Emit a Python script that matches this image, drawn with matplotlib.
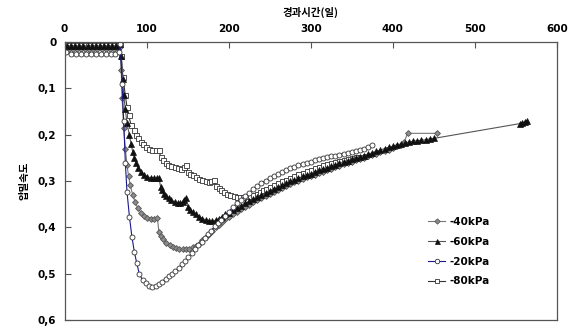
import matplotlib
matplotlib.use("Agg")
import matplotlib.pyplot as plt
from matplotlib.ticker import FixedLocator, FuncFormatter

plt.rcParams['font.family'] = ['DejaVu Sans', 'Noto Sans CJK KR']

# -20kPa (open circles)
d20 = [2, 8, 14, 20, 26, 32, 38, 44, 50, 56, 61, 66, 68, 70, 72, 74, 76, 79, 82, 85,
       88, 91, 95, 99, 103, 107, 111, 115, 119, 123, 127, 131, 135, 139, 143, 147,
       151, 155, 159, 163, 167, 171, 175, 179, 183, 187, 191, 195, 200, 205, 210,
       215, 220, 225, 230, 235, 240, 245, 250, 255, 260, 265, 270, 275, 280, 285,
       290, 295, 300, 305, 310, 315, 320, 325, 330, 335, 340, 345, 350, 355, 360,
       365, 370, 375]
v20 = [0.022, 0.025, 0.025, 0.025, 0.025, 0.025, 0.025, 0.025, 0.025, 0.025, 0.025,
       0.022, 0.005, 0.09, 0.17, 0.26, 0.323, 0.377, 0.42, 0.453,
       0.478, 0.5, 0.514, 0.521, 0.527, 0.528, 0.527, 0.523, 0.517, 0.511, 0.505,
       0.5, 0.494, 0.487, 0.48, 0.472, 0.464, 0.456, 0.447, 0.439, 0.431, 0.423,
       0.415, 0.407, 0.398, 0.391, 0.384, 0.375, 0.366, 0.357, 0.348, 0.34, 0.332,
       0.325, 0.318, 0.311, 0.305, 0.299, 0.294, 0.289, 0.284, 0.28, 0.276, 0.272,
       0.269, 0.266, 0.263, 0.26, 0.258, 0.255, 0.253, 0.251, 0.249, 0.247, 0.245,
       0.243, 0.241, 0.239, 0.237, 0.235, 0.233, 0.23, 0.227, 0.223]

# -40kPa (grey diamonds)
d40 = [0, 5, 10, 15, 20, 25, 30, 35, 40, 45, 50, 55, 60, 65, 67, 69, 70, 72, 74, 76,
       78, 80, 83, 86, 89, 93, 97, 101, 105, 109, 113, 115, 117, 120, 124, 128, 132,
       136, 140, 144, 148, 152, 156, 160, 164, 168, 172, 176, 180, 184, 188, 192,
       196, 200, 205, 210, 215, 220, 225, 230, 235, 240, 245, 250, 255, 260, 265,
       270, 275, 280, 285, 290, 295, 300, 305, 310, 315, 320, 325, 330, 335, 340,
       345, 350, 355, 360, 365, 370, 375, 380, 385, 390, 395, 400, 405, 410, 414,
       418, 454]
v40 = [0.012, 0.014, 0.014, 0.014, 0.014, 0.014, 0.014, 0.014, 0.014, 0.014, 0.014,
       0.014, 0.014, 0.014, 0.01, 0.06, 0.12, 0.185, 0.23, 0.265,
       0.29, 0.309, 0.33, 0.345, 0.358, 0.368, 0.375, 0.379, 0.381, 0.381, 0.379,
       0.41, 0.418, 0.426, 0.433, 0.438, 0.442, 0.445, 0.447, 0.447, 0.447, 0.446,
       0.443, 0.44, 0.435, 0.428, 0.421, 0.414, 0.407, 0.4, 0.394, 0.388, 0.382,
       0.377, 0.371, 0.366, 0.361, 0.356, 0.351, 0.346, 0.341, 0.337, 0.332, 0.328,
       0.323, 0.319, 0.315, 0.311, 0.307, 0.303, 0.299, 0.295, 0.292, 0.289, 0.286,
       0.283, 0.28, 0.277, 0.274, 0.27, 0.267, 0.264, 0.261, 0.258, 0.255, 0.253,
       0.25, 0.247, 0.244, 0.241, 0.238, 0.235, 0.232, 0.228, 0.225, 0.222, 0.216,
       0.197, 0.197]

# -60kPa (black triangles)
d60 = [3, 8, 13, 18, 23, 28, 33, 38, 43, 48, 53, 58, 63, 67, 69, 71, 72, 74, 76, 79,
       81, 83, 85, 87, 90, 93, 97, 101, 105, 109, 113, 115, 117, 119, 121, 124, 127,
       130, 134, 138, 141, 144, 146, 148, 150, 153, 156, 160, 164, 168, 172, 176,
       180, 184, 188, 192, 196, 200, 205, 210, 215, 220, 225, 230, 235, 240, 245,
       250, 255, 260, 265, 270, 275, 280, 285, 290, 295, 300, 305, 310, 315, 320,
       325, 330, 335, 340, 345, 350, 355, 360, 365, 370, 375, 380, 385, 390, 395,
       400, 405, 410, 415, 420, 425, 430, 435, 440, 445, 450, 555, 558, 561, 564]
v60 = [0.008, 0.008, 0.008, 0.008, 0.008, 0.008, 0.008, 0.008, 0.008, 0.008, 0.008,
       0.008, 0.008, 0.005, 0.03, 0.08, 0.115, 0.145, 0.175, 0.201,
       0.22, 0.237, 0.25, 0.262, 0.272, 0.28, 0.286, 0.291, 0.293, 0.294, 0.294,
       0.294, 0.312, 0.32, 0.327, 0.333, 0.337, 0.341, 0.345, 0.348, 0.348, 0.345,
       0.34, 0.336, 0.356, 0.362, 0.367, 0.372, 0.377, 0.381, 0.384, 0.386, 0.386,
       0.385, 0.381, 0.377, 0.372, 0.368, 0.363, 0.358, 0.353, 0.348, 0.344, 0.339,
       0.334, 0.33, 0.325, 0.321, 0.317, 0.313, 0.309, 0.305, 0.301, 0.298, 0.294,
       0.29, 0.287, 0.284, 0.28, 0.277, 0.274, 0.271, 0.268, 0.265, 0.262, 0.259,
       0.256, 0.253, 0.25, 0.248, 0.245, 0.242, 0.239, 0.236, 0.233, 0.23, 0.227,
       0.225, 0.222, 0.22, 0.218, 0.216, 0.214, 0.213, 0.212, 0.211, 0.209, 0.208,
       0.176, 0.174, 0.172, 0.171]

# -80kPa (open squares)
d80 = [0, 4, 9, 14, 19, 24, 29, 34, 39, 44, 49, 54, 59, 64, 67, 69, 71, 74, 76, 78,
       81, 84, 87, 90, 93, 96, 99, 103, 107, 111, 115, 117, 120, 123, 126, 130, 134,
       138, 142, 145, 148, 150, 153, 156, 160, 164, 168, 172, 176, 179, 182, 185,
       188, 191, 194, 198, 202, 206, 210, 214, 218, 222, 226, 230, 234, 238, 242,
       246, 250, 255, 260, 265, 270, 275, 280, 285, 290, 295, 300, 305, 310, 315,
       320, 325, 330, 335, 340, 345, 350, 355, 360, 366]
v80 = [0.0, 0.006, 0.006, 0.006, 0.006, 0.006, 0.006, 0.006, 0.006, 0.006, 0.006,
       0.006, 0.006, 0.006, 0.003, 0.03, 0.075, 0.115, 0.14, 0.158,
       0.179, 0.19, 0.2, 0.208, 0.215, 0.221, 0.226, 0.23, 0.233, 0.234, 0.232,
       0.248, 0.254, 0.26, 0.265, 0.268, 0.27, 0.272, 0.273, 0.27, 0.266, 0.28,
       0.285, 0.288, 0.291, 0.295, 0.298, 0.3, 0.302, 0.301, 0.298, 0.31, 0.315,
       0.319, 0.323, 0.327, 0.33, 0.333, 0.334, 0.335, 0.334, 0.333, 0.332, 0.33,
       0.327, 0.324, 0.32, 0.317, 0.313, 0.309, 0.305, 0.301, 0.297, 0.293, 0.289,
       0.285, 0.282, 0.279, 0.276, 0.272, 0.269, 0.266, 0.264, 0.261, 0.259, 0.257,
       0.255, 0.253, 0.251, 0.249, 0.248, 0.246]

xticks = [0, 100, 200, 300, 400, 500, 600]
yticks = [0, 0.1, 0.2, 0.3, 0.4, 0.5, 0.6]

fig = plt.figure(figsize=(5.77, 3.34), dpi=100)
ax = fig.add_axes([0.112, 0.042, 0.853, 0.832])

mk = dict(markersize=3.6, markeredgewidth=0.6)
l80, = ax.plot(d80, v80, '-', color='#333333', lw=0.8, marker='s',
               mfc='white', mec='#333333', **mk)
l40, = ax.plot(d40, v40, '-', color='#777777', lw=0.8, marker='D',
               mfc='#8c8c8c', mec='#555555', markersize=3.0, markeredgewidth=0.6)
l60, = ax.plot(d60, v60, '-', color='#555555', lw=0.8, marker='^',
               mfc='#111111', mec='#111111', markersize=4.0, markeredgewidth=0.5)
l20, = ax.plot(d20, v20, '-', color='#1a1a8c', lw=0.8, marker='o',
               mfc='white', mec='#333333', **mk)

ax.set_xlim(0, 600)
ax.set_ylim(0.6, 0)
ax.xaxis.tick_top()
ax.xaxis.set_label_position('top')
ax.xaxis.set_major_locator(FixedLocator(xticks))
ax.yaxis.set_major_locator(FixedLocator(yticks))
ax.yaxis.set_major_formatter(FuncFormatter(lambda v, p: '0' if v == 0 else ('%.1f' % v).replace('.', ',')))
ax.tick_params(axis='both', direction='in', length=4, width=0.8, color='#555555',
               labelsize=7.5, pad=6)
for lab in ax.get_xticklabels() + ax.get_yticklabels():
    lab.set_fontweight('bold')
for s in ax.spines.values():
    s.set_color('#555555')
    s.set_linewidth(0.9)

ax.set_xlabel('경과시간(일)', fontsize=7.5, fontweight='bold', labelpad=6,
              family=['Noto Sans CJK KR', 'DejaVu Sans'])
ax.set_ylabel('압밀속도', fontsize=7.5, fontweight='bold', labelpad=6,
              family=['Noto Sans CJK KR', 'DejaVu Sans'])

leg = ax.legend([l40, l60, l20, l80], ['-40kPa', '-60kPa', '-20kPa', '-80kPa'],
                loc='upper left', bbox_to_anchor=(0.72, 0.405), frameon=False,
                fontsize=7.5, handlelength=1.6, labelspacing=0.95, handletextpad=0.4,
                markerscale=0.9)
for t in leg.get_texts():
    t.set_fontweight('bold')

fig.savefig('out.png', dpi=100)
